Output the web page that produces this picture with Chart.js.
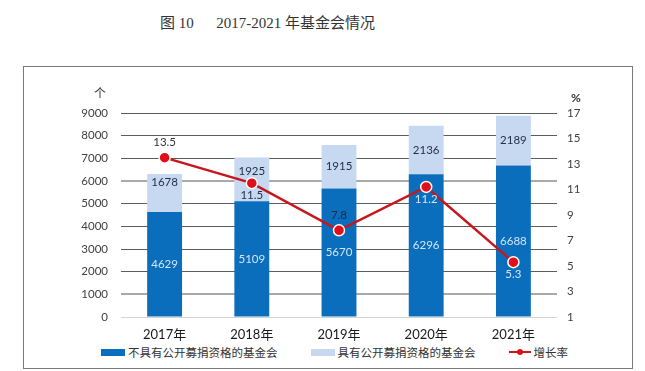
<!DOCTYPE html>
<html lang="zh-CN">
<head>
<meta charset="utf-8">
<title>2017-2021 年基金会情况</title>
<script src="https://cdn.jsdelivr.net/npm/chart.js@4.4.1/dist/chart.umd.min.js"></script>
<style>
    html, body { margin: 0; padding: 0; background: #fff; }
    body { width: 645px; height: 371px; position: relative; overflow: hidden; }
    .judul {
        position: absolute; left: 160px; top: 11px;
        font-family: "Liberation Serif", "Noto Sans CJK SC", serif;
        font-size: 15px; color: #333; white-space: pre;
    }
    .kotak {
        position: absolute; left: 23px; top: 66px;
        width: 608px; height: 301px; border: 1px solid #7a7a7a;
    }
    .kanvas { position: absolute; left: 0; top: 0; width: 608px; height: 276px; }
    .legenda {
        position: absolute; left: 77px; top: 277px;
        display: flex; align-items: center; gap: 33px;
        font-family: "Noto Sans CJK SC", sans-serif; font-size: 11.5px; color: #333;
    }
    .item { display: flex; align-items: center; gap: 3px; }
    .kotakWarna { width: 24px; height: 7px; }
    .garisWarna { position: relative; width: 22px; height: 2.5px; }
    .garisWarna span {
        position: absolute; left: 8px; top: -2px; width: 6px; height: 6px; border-radius: 50%;
    }
</style>
</head>
<body>
<div class="judul">图 10      2017-2021 年基金会情况</div>
<div class="kotak">
    <div class="kanvas"><canvas id="grafikYayasan" width="608" height="276"></canvas></div>
    <div class="legenda" id="legenda"></div>
</div>

<script>
// --- DATA ---
const kategoriTahun = ['2017年', '2018年', '2019年', '2020年', '2021年'];
const nilaiTanpaPublik = [4629, 5109, 5670, 6296, 6688];   // 不具有公开募捐资格的基金会
const nilaiDenganPublik = [1678, 1925, 1915, 2136, 2189];  // 具有公开募捐资格的基金会
const tingkatPertumbuhan = [13.5, 11.5, 7.8, 11.2, 5.3];   // 增长率 (%)
const tickKiri = [0, 1000, 2000, 3000, 4000, 5000, 6000, 7000, 8000, 9000];
const tickKanan = [1, 3, 5, 7, 9, 11, 13, 15, 17];

const warnaBiruTua = '#0a6ebd';
const warnaBiruMuda = '#c6d9f0';
const warnaMerah = '#c8161d';

Chart.defaults.font.family = "Lato, 'Noto Sans CJK SC', sans-serif";
Chart.defaults.color = '#404040';

// --- PLUGIN LABEL NILAI ---
const pluginLabelNilai = {
    id: 'labelNilai',
    afterDatasetsDraw(chart, args, opsi) {
        const ctx = chart.ctx;
        ctx.save();
        ctx.font = "11.5px Lato, 'Noto Sans', sans-serif";
        ctx.textAlign = 'center';
        ctx.textBaseline = 'middle';

        chart.data.datasets.forEach((ds, i) => {
            const meta = chart.getDatasetMeta(i);
            meta.data.forEach((el, j) => {
                if (ds.type === 'line') {
                    const atur = opsi.garis[j];
                    ctx.fillStyle = atur.warna;
                    ctx.fillText(ds.data[j].toFixed(1), el.x, el.y + (atur.atas ? -15 : 12));
                } else {
                    const { x, y, base } = el.getProps(['x', 'y', 'base'], true);
                    // geser label ke atas kalau bertabrakan dengan titik garis
                    const geser = (ds.geserLabel && ds.geserLabel[j]) || 0;
                    ctx.fillStyle = ds.warnaLabel;
                    ctx.fillText(ds.data[j], x, (y + base) / 2 - geser);
                }
            });
        });

        // satuan sumbu
        const area = chart.chartArea;
        ctx.fillStyle = '#333';
        ctx.font = "12px 'Noto Sans CJK SC', sans-serif";
        ctx.fillText('个', area.left - 21, area.top - 20);
        ctx.font = "bold 12px Lato, sans-serif";
        ctx.fillText('%', area.right + 19, area.top - 15);
        ctx.restore();
    }
};

// --- GRAFIK ---
function inisialisasiGrafik() {
    const ctx = document.getElementById('grafikYayasan').getContext('2d');
    return new Chart(ctx, {
        data: {
            labels: kategoriTahun,
            datasets: [
                {
                    type: 'line',
                    label: '增长率',
                    data: tingkatPertumbuhan,
                    yAxisID: 'y1',
                    borderColor: warnaMerah,
                    borderWidth: 2.5,
                    pointRadius: 5.5,
                    pointBackgroundColor: '#e0101a',
                    pointBorderColor: '#ffffff',
                    pointBorderWidth: 1.5,
                    tension: 0
                },
                {
                    type: 'bar',
                    label: '不具有公开募捐资格的基金会',
                    data: nilaiTanpaPublik,
                    backgroundColor: warnaBiruTua,
                    warnaLabel: '#d3e5f6',
                    yAxisID: 'y',
                    stack: 'total',
                    barPercentage: 0.4,
                    categoryPercentage: 1
                },
                {
                    type: 'bar',
                    label: '具有公开募捐资格的基金会',
                    data: nilaiDenganPublik,
                    backgroundColor: warnaBiruMuda,
                    warnaLabel: '#1f2f45',
                    geserLabel: [11, 8, 0, 0, 0],
                    yAxisID: 'y',
                    stack: 'total',
                    barPercentage: 0.4,
                    categoryPercentage: 1
                }
            ]
        },
        options: {
            responsive: false,
            animation: false,
            layout: { padding: { top: 46, left: 0, right: 0, bottom: 0 } },
            scales: {
                x: {
                    stacked: true,
                    grid: { display: false },
                    border: { display: false },
                    ticks: { color: '#1a1a1a', padding: 2, font: { size: 13 } },
                    afterFit: (s) => { s.height = 26; }
                },
                y: {
                    position: 'left',
                    stacked: true,
                    min: 0, max: 9000,
                    afterBuildTicks: (s) => { s.ticks = tickKiri.map(v => ({ value: v })); },
                    afterFit: (s) => { s.width = 97; },
                    border: { display: false },
                    grid: {
                        drawTicks: false,
                        color: (c) => c.tick.value === 0 ? '#d4d4d4'
                            : (c.tick.value === 1000 || c.tick.value === 6000) ? '#a9a9a9' : '#5c5c5c',
                        lineWidth: (c) => (c.tick.value === 1000 || c.tick.value === 6000) ? 2 : 1
                    },
                    ticks: { padding: 13, font: { size: 11.5 }, callback: (v) => String(v) }
                },
                y1: {
                    position: 'right',
                    min: 1, max: 17,
                    afterBuildTicks: (s) => { s.ticks = tickKanan.map(v => ({ value: v })); },
                    afterFit: (s) => { s.width = 75; },
                    border: { display: false },
                    grid: { drawOnChartArea: false, drawTicks: false },
                    ticks: { padding: 10, font: { size: 11.5 }, callback: (v) => String(v) }
                }
            },
            plugins: {
                legend: { display: false },
                tooltip: { enabled: false },
                labelNilai: {
                    garis: [
                        { atas: true, warna: '#333333' },
                        { atas: false, warna: '#1f2f45' },
                        { atas: true, warna: '#1a2a40' },
                        { atas: false, warna: '#d3e5f6' },
                        { atas: false, warna: '#d3e5f6' }
                    ]
                }
            }
        },
        plugins: [pluginLabelNilai]
    });
}

// --- LEGENDA HTML ---
function buatLegenda(grafik) {
    const wadah = document.getElementById('legenda');
    const urutan = [1, 2, 0];
    urutan.forEach(i => {
        const ds = grafik.data.datasets[i];
        const item = document.createElement('div');
        item.className = 'item';
        if (ds.type === 'line') {
            item.innerHTML = `<div class="garisWarna" style="background:${ds.borderColor}">
                <span style="background:${ds.pointBackgroundColor}"></span></div><div>${ds.label}</div>`;
        } else {
            item.innerHTML = `<div class="kotakWarna" style="background:${ds.backgroundColor}"></div><div>${ds.label}</div>`;
        }
        wadah.appendChild(item);
    });
}

const grafikYayasan = inisialisasiGrafik();
buatLegenda(grafikYayasan);
</script>
</body>
</html>
